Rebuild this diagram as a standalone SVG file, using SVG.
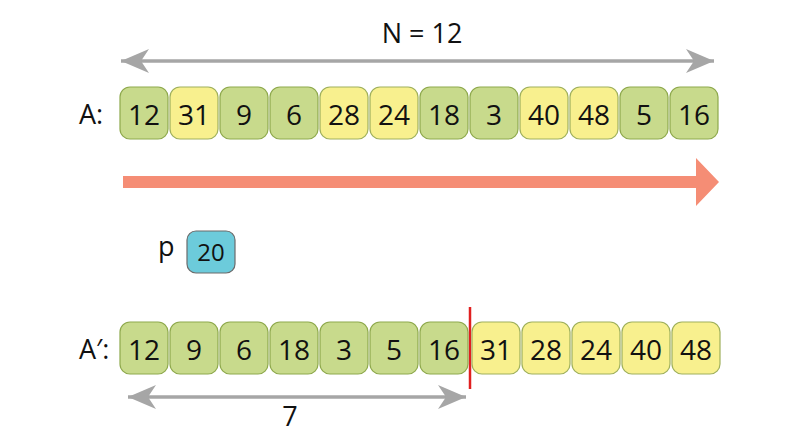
<svg xmlns="http://www.w3.org/2000/svg" width="802" height="435" viewBox="0 0 802 435">
<style>
.g{fill:#c8da8c;stroke:#8ea94c;stroke-width:1.2}
.y{fill:#f8f08e;stroke:#9fb05c;stroke-width:1.2}
.b{fill:#6ccbdb;stroke:#6b6b6b;stroke-width:1.2}
text{font-family:"Open Sans","Liberation Sans",sans-serif;fill:#111}
.n{font-size:28px;text-anchor:middle}
.l{font-size:27px}
.ga{stroke:#a6a6a6;stroke-width:3.5;fill:none}
</style>
<defs>
<marker id="ah" viewBox="0 0 28 24" refX="28" refY="12" markerWidth="28" markerHeight="24" markerUnits="userSpaceOnUse" orient="auto-start-reverse">
<path d="M0,0 L28,12 L0,24 L8,12 Z" fill="#a6a6a6"/>
</marker>
</defs>
<g id="connectors">
<line class="ga" x1="121" y1="61" x2="714" y2="61" marker-start="url(#ah)" marker-end="url(#ah)"/>
<path d="M123,176 L696,176 L696,158 L719,182 L696,206 L696,188 L123,188 Z" fill="#f58d75"/>
<line class="ga" x1="128" y1="397" x2="466" y2="397" marker-start="url(#ah)" marker-end="url(#ah)"/>
<line x1="470" y1="307" x2="470" y2="389" stroke="#e02020" stroke-width="2.5"/>
</g>
<text class="l" x="422" y="43" text-anchor="middle">N = 12</text>
<text class="l" x="79" y="124">A:</text>
<g id="rowA">
<g id="a0"><rect class="g" x="120" y="87" width="48" height="52" rx="10"/><text class="n" x="144" y="125">12</text></g>
<g id="a1"><rect class="y" x="170" y="87" width="48" height="52" rx="10"/><text class="n" x="194" y="125">31</text></g>
<g id="a2"><rect class="g" x="220" y="87" width="48" height="52" rx="10"/><text class="n" x="244" y="125">9</text></g>
<g id="a3"><rect class="g" x="270" y="87" width="48" height="52" rx="10"/><text class="n" x="294" y="125">6</text></g>
<g id="a4"><rect class="y" x="320" y="87" width="48" height="52" rx="10"/><text class="n" x="344" y="125">28</text></g>
<g id="a5"><rect class="y" x="370" y="87" width="48" height="52" rx="10"/><text class="n" x="394" y="125">24</text></g>
<g id="a6"><rect class="g" x="420" y="87" width="48" height="52" rx="10"/><text class="n" x="444" y="125">18</text></g>
<g id="a7"><rect class="g" x="470" y="87" width="48" height="52" rx="10"/><text class="n" x="494" y="125">3</text></g>
<g id="a8"><rect class="y" x="520" y="87" width="48" height="52" rx="10"/><text class="n" x="544" y="125">40</text></g>
<g id="a9"><rect class="y" x="570" y="87" width="48" height="52" rx="10"/><text class="n" x="594" y="125">48</text></g>
<g id="a10"><rect class="g" x="620" y="87" width="48" height="52" rx="10"/><text class="n" x="644" y="125">5</text></g>
<g id="a11"><rect class="g" x="670" y="87" width="48" height="52" rx="10"/><text class="n" x="694" y="125">16</text></g>
</g>
<text class="l" x="158" y="256">p</text>
<g id="pivot"><rect class="b" x="187" y="231" width="48" height="42" rx="9"/><text x="211" y="261" font-size="24" text-anchor="middle">20</text></g>
<text class="l" x="79" y="359">A′:</text>
<g id="rowB">
<g id="b0"><rect class="g" x="120" y="322" width="48" height="52" rx="10"/><text class="n" x="144" y="360">12</text></g>
<g id="b1"><rect class="g" x="170" y="322" width="48" height="52" rx="10"/><text class="n" x="194" y="360">9</text></g>
<g id="b2"><rect class="g" x="220" y="322" width="48" height="52" rx="10"/><text class="n" x="244" y="360">6</text></g>
<g id="b3"><rect class="g" x="270" y="322" width="48" height="52" rx="10"/><text class="n" x="294" y="360">18</text></g>
<g id="b4"><rect class="g" x="320" y="322" width="48" height="52" rx="10"/><text class="n" x="344" y="360">3</text></g>
<g id="b5"><rect class="g" x="370" y="322" width="48" height="52" rx="10"/><text class="n" x="394" y="360">5</text></g>
<g id="b6"><rect class="g" x="420" y="322" width="48" height="52" rx="10"/><text class="n" x="444" y="360">16</text></g>
<g id="b7"><rect class="y" x="472" y="322" width="48" height="52" rx="10"/><text class="n" x="496" y="360">31</text></g>
<g id="b8"><rect class="y" x="522" y="322" width="48" height="52" rx="10"/><text class="n" x="546" y="360">28</text></g>
<g id="b9"><rect class="y" x="572" y="322" width="48" height="52" rx="10"/><text class="n" x="596" y="360">24</text></g>
<g id="b10"><rect class="y" x="622" y="322" width="48" height="52" rx="10"/><text class="n" x="646" y="360">40</text></g>
<g id="b11"><rect class="y" x="672" y="322" width="48" height="52" rx="10"/><text class="n" x="696" y="360">48</text></g>
</g>
<text class="l" x="290" y="426" text-anchor="middle">7</text>
</svg>
